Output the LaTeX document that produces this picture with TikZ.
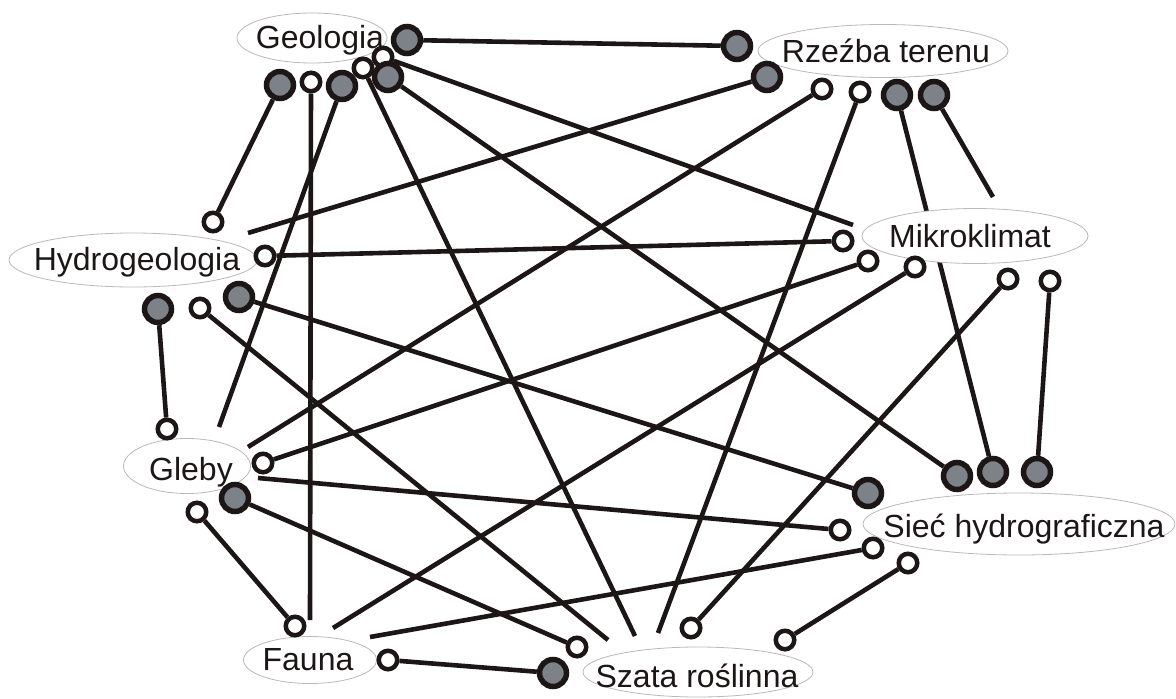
\documentclass[tikz,border=0pt]{standalone}
\usepackage{fontspec}
\setmainfont{Liberation Sans}
\usetikzlibrary{shapes.geometric}
\definecolor{dotgray}{RGB}{125,130,136}
\definecolor{ink}{RGB}{28,22,22}
\definecolor{ellline}{RGB}{185,185,185}
\pgfdeclarelayer{lines}
\pgfdeclarelayer{ells}
\pgfdeclarelayer{front}
\pgfsetlayers{lines,ells,main,front}
\begin{document}
\begin{tikzpicture}[x=1pt,y=-1pt,
  fulldot/.style={circle,draw=ink,fill=dotgray,line width=5.5pt,minimum size=27pt,inner sep=0pt},
  opendot/.style={circle,draw=ink,fill=white,line width=4.5pt,minimum size=18.5pt,inner sep=0pt},
  link/.style={draw=ink,line width=4.6pt},
  topic/.style={ellipse,draw=ellline,fill=white,line width=0.8pt,inner sep=0pt},
  lbl/.style={font=\fontsize{32}{38}\selectfont,text=ink,inner sep=0pt,anchor=base}]
\useasboundingbox (0,0) rectangle (1176,699);

\begin{pgfonlayer}{ells}
\node[topic,minimum width=150pt,minimum height=50pt] (geoE) at (312,38) {};
\node[topic,minimum width=250pt,minimum height=53pt] (rzeE) at (883,51) {};
\node[topic,minimum width=248pt,minimum height=54pt] (hydE) at (133,260) {};
\node[topic,minimum width=226pt,minimum height=55pt] (mikE) at (975,236) {};
\node[topic,minimum width=127pt,minimum height=55pt] (glE) at (187,466) {};
\node[topic,minimum width=312pt,minimum height=62pt] (sieE) at (1019,524) {};
\node[topic,minimum width=133pt,minimum height=47pt] (faE) at (310,660) {};
\node[topic,minimum width=230pt,minimum height=50pt] (szE) at (698,672) {};
\end{pgfonlayer}

\begin{pgfonlayer}{front}
\node[lbl] (geoT) at (320,48) {Geologia};
\node[lbl] (rzeT) at (886,62) {Rzeźba terenu};
\node[lbl] (hydT) at (137,270) {Hydrogeologia};
\node[lbl] (mikT) at (970,247) {Mikroklimat};
\node[lbl] (glT) at (191,480) {Gleby};
\node[lbl] (sieT) at (1024,537) {Sieć hydrograficzna};
\node[lbl] (faT) at (308,670) {Fauna};
\node[lbl] (szT) at (697,687) {Szata roślinna};
\end{pgfonlayer}

% Geologia terminals
\node[fulldot] (gA) at (407,40) {};
\node[opendot] (wB) at (383,57) {};
\node[opendot] (wC) at (363,68) {};
\node[fulldot] (gD) at (388,77) {};
\node[fulldot] (gE) at (280,85) {};
\node[opendot] (wF) at (311,82) {};
\node[fulldot] (gG) at (342,86) {};
% Rzezba terminals
\node[fulldot] (rA) at (737,46) {};
\node[fulldot] (rB) at (767,77) {};
\node[opendot] (rC) at (822,89) {};
\node[opendot] (rD) at (860,92) {};
\node[fulldot] (rE) at (897,95) {};
\node[fulldot] (rF) at (934,95) {};
% Mikroklimat terminals
\node[opendot] (mA) at (843,241) {};
\node[opendot] (mB) at (868,261) {};
\node[opendot] (mC) at (915,267) {};
\node[opendot] (mD) at (1008,279) {};
\node[opendot] (mE) at (1050,281) {};
\coordinate (mEnd1) at (853,225);
\coordinate (mEnd2) at (993,197);
% Siec terminals
\node[fulldot] (sA) at (957,476) {};
\node[fulldot] (sD) at (993,472) {};
\node[fulldot] (sE) at (1037,472) {};
\node[fulldot] (sF) at (868,493) {};
\node[opendot] (sG) at (840,530) {};
\node[opendot] (sH) at (873,548) {};
\node[opendot] (sI) at (908,563) {};
% Hydrogeologia terminals
\node[opendot] (hW) at (213,222) {};
\coordinate (hB) at (248,233);
\node[opendot] (hC) at (265,256) {};
\node[fulldot] (hA) at (239,297) {};
\node[fulldot] (hD) at (158,309) {};
\node[opendot] (hE) at (200,308) {};
% Gleby terminals
\node[opendot] (gW) at (167,429) {};
\coordinate (gbB) at (219,427);
\coordinate (gbC) at (248,447);
\node[opendot] (gbD) at (263,463) {};
\coordinate (gbE) at (258,478);
\node[fulldot] (gbF) at (235,498) {};
\node[opendot] (gbG) at (197,512) {};
% Fauna terminals
\node[opendot] (fA) at (295,626) {};
\coordinate (fB) at (310,620);
\coordinate (fC) at (333,628);
\coordinate (fD) at (370,637);
\node[opendot] (fE) at (388,660) {};
% Szata terminals
\node[opendot] (sW1) at (577,647) {};
\node[fulldot] (szG) at (553,673) {};
\coordinate (sz1) at (608,640);
\coordinate (sz2) at (635,636);
\coordinate (sz3) at (658,633);
\node[opendot] (sW2) at (691,628) {};
\node[opendot] (sW3) at (785,640) {};

\begin{pgfonlayer}{lines}
\draw[link] (gA) -- (rA);
\draw[link] (wB) -- (mEnd1);
\draw[link] (wC) -- (sz2);
\draw[link] (gD) -- (sA);
\draw[link] (gE) -- (hW);
\draw[link] (wF) -- (fB);
\draw[link] (gG) -- (gbB);
\draw[link] (rB) -- (hB);
\draw[link] (rC) -- (gbC);
\draw[link] (rD) -- (sz3);
\draw[link] (rE) -- (sD);
\draw[link] (rF) -- (mEnd2);
\draw[link] (mA) -- (hC);
\draw[link] (mB) -- (gbD);
\draw[link] (mC) -- (fC);
\draw[link] (mD) -- (sW2);
\draw[link] (mE) -- (sE);
\draw[link] (hA) -- (sF);
\draw[link] (hD) -- (gW);
\draw[link] (hE) -- (sz1);
\draw[link] (gbE) -- (sG);
\draw[link] (gbF) -- (sW1);
\draw[link] (gbG) -- (fA);
\draw[link] (fD) -- (sH);
\draw[link] (fE) -- (szG);
\draw[link] (sW3) -- (sI);
\end{pgfonlayer}
\end{tikzpicture}
\end{document}
